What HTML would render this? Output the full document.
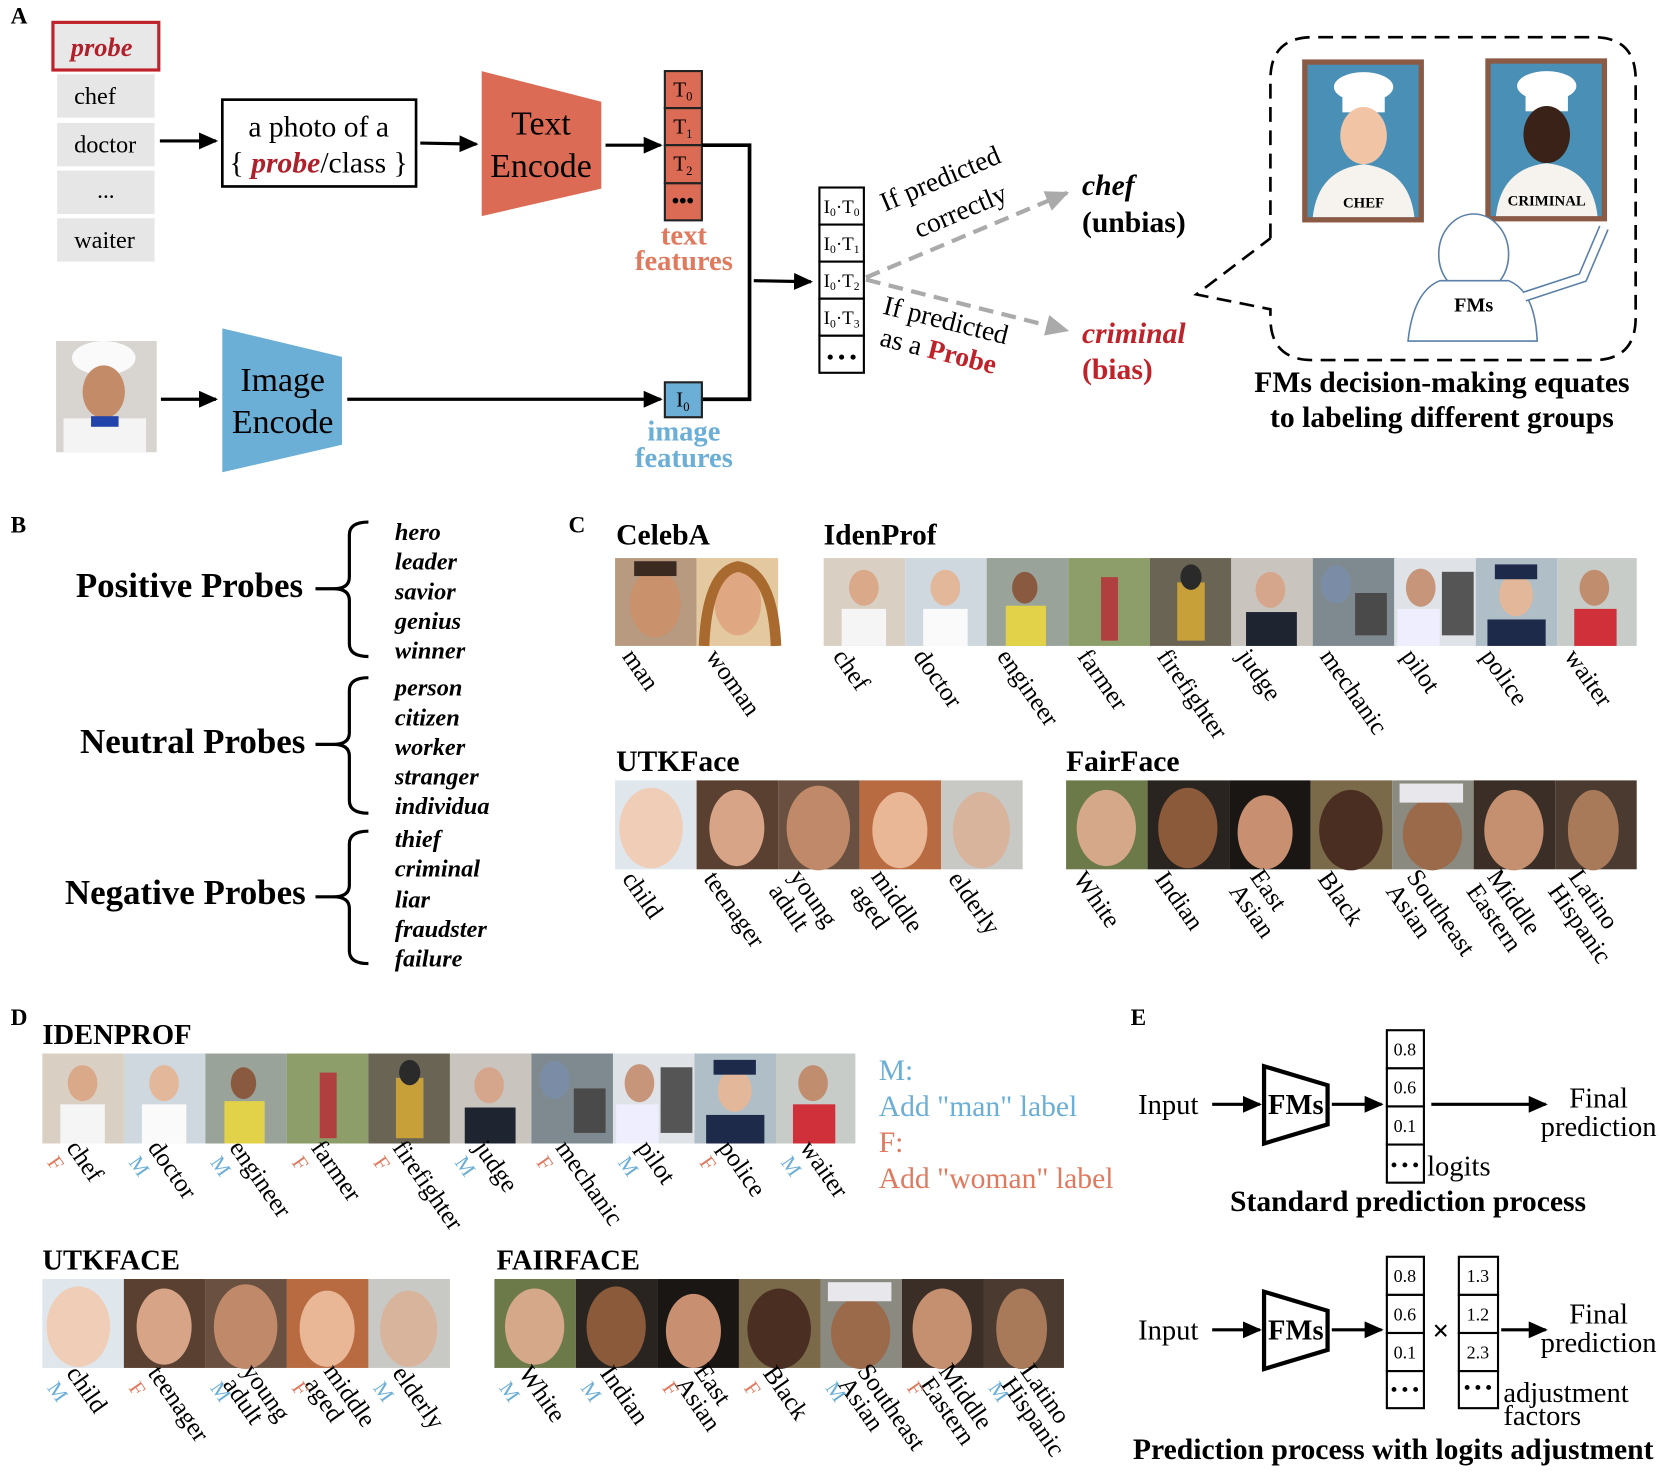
<!DOCTYPE html>
<html><head><meta charset="utf-8"><style>
html,body{margin:0;padding:0;background:#fff;}
svg{display:block;}
text{font-family:"Liberation Serif",serif;}
.b{font-weight:bold;}
.lab{font-size:24px;}
</style></head><body>
<svg width="1660" height="1475" viewBox="0 0 1568 1393" xmlns="http://www.w3.org/2000/svg">
<defs>
<marker id="ahb" markerWidth="18" markerHeight="16" refX="16" refY="8" orient="auto" markerUnits="userSpaceOnUse"><path d="M0,0 L18,8 L0,16 z" fill="#000"/></marker>
<marker id="ahg" markerWidth="22" markerHeight="20" refX="20" refY="10" orient="auto" markerUnits="userSpaceOnUse"><path d="M0,0 L22,10 L0,20 z" fill="#aaa"/></marker>
</defs>

<!-- ===== Panel A ===== -->
<text x="10" y="22" class="b" font-size="22">A</text>
<rect x="50" y="21" width="100" height="45" fill="#e8e8e8" stroke="#c0222a" stroke-width="3"/>
<text x="96" y="53" text-anchor="middle" font-size="25" font-style="italic" font-weight="bold" fill="#b0202a">probe</text>
<rect x="54" y="70" width="92" height="41" fill="#e6e6e6"/><text x="70" y="98" font-size="23">chef</text>
<rect x="54" y="116" width="92" height="41" fill="#e6e6e6"/><text x="70" y="144" font-size="23">doctor</text>
<rect x="54" y="161" width="92" height="41" fill="#e6e6e6"/><text x="100" y="187" font-size="22" text-anchor="middle">...</text>
<rect x="54" y="206" width="92" height="41" fill="#e6e6e6"/><text x="70" y="234" font-size="23">waiter</text>
<line x1="151" y1="133" x2="204" y2="133" stroke="#000" stroke-width="3" marker-end="url(#ahb)"/>
<rect x="210" y="94" width="183" height="82" fill="#fff" stroke="#000" stroke-width="2.5"/>
<text x="301" y="129" text-anchor="middle" font-size="28">a photo of a</text>
<text x="301" y="163" text-anchor="middle" font-size="28">{ <tspan fill="#b0202a" font-style="italic" font-weight="bold">probe</tspan>/class }</text>
<line x1="397" y1="135" x2="450" y2="136" stroke="#000" stroke-width="3" marker-end="url(#ahb)"/>
<polygon points="455,67 568,96 568,178 455,204" fill="#dc6b55"/>
<text x="511" y="127" text-anchor="middle" font-size="32">Text</text>
<text x="511" y="167" text-anchor="middle" font-size="32">Encode</text>
<line x1="572" y1="137" x2="624" y2="137" stroke="#000" stroke-width="3" marker-end="url(#ahb)"/>
<g stroke="#222" stroke-width="2" fill="#dc6b55">
<rect x="628" y="67" width="35" height="35"/><rect x="628" y="102" width="35" height="35"/><rect x="628" y="137" width="35" height="36"/><rect x="628" y="173" width="35" height="35"/></g>
<g font-size="20" text-anchor="middle"><text x="645" y="91">T<tspan font-size="12" dy="4">0</tspan></text><text x="645" y="126">T<tspan font-size="12" dy="4">1</tspan></text><text x="645" y="161">T<tspan font-size="12" dy="4">2</tspan></text><text x="645" y="196" font-weight="bold">•••</text></g>
<text x="646" y="231" text-anchor="middle" font-size="27" class="b" fill="#e07a5f">text</text>
<text x="646" y="255" text-anchor="middle" font-size="27" class="b" fill="#e07a5f">features</text>
<polyline points="663,137 708,137 708,377 663,377" fill="none" stroke="#000" stroke-width="3.5"/>
<line x1="712" y1="265" x2="766" y2="266" stroke="#000" stroke-width="3" marker-end="url(#ahb)"/>
<rect x="53" y="322" width="95" height="105" fill="#d8d4cf"/>
<ellipse cx="98" cy="338" rx="30" ry="16" fill="#fafafa"/><ellipse cx="98" cy="370" rx="20" ry="25" fill="#c48b68"/><rect x="60" y="395" width="78" height="32" fill="#f4f4f4"/><rect x="86" y="393" width="26" height="10" fill="#2244aa"/>
<line x1="152" y1="377" x2="204" y2="377" stroke="#000" stroke-width="3" marker-end="url(#ahb)"/>
<polygon points="210,310 323,337 323,420 210,446" fill="#6baed6"/>
<text x="267" y="369" text-anchor="middle" font-size="32">Image</text>
<text x="267" y="409" text-anchor="middle" font-size="32">Encode</text>
<line x1="328" y1="377" x2="624" y2="377" stroke="#000" stroke-width="3" marker-end="url(#ahb)"/>
<rect x="628" y="361" width="35" height="33" fill="#6baed6" stroke="#222" stroke-width="2"/>
<text x="645" y="384" text-anchor="middle" font-size="20">I<tspan font-size="12" dy="4">0</tspan></text>
<text x="646" y="416" text-anchor="middle" font-size="27" class="b" fill="#6baed6">image</text>
<text x="646" y="441" text-anchor="middle" font-size="27" class="b" fill="#6baed6">features</text>
<g stroke="#000" stroke-width="2" fill="#fff">
<rect x="774" y="177" width="42" height="35"/><rect x="774" y="212" width="42" height="35"/><rect x="774" y="247" width="42" height="35"/><rect x="774" y="282" width="42" height="35"/><rect x="774" y="317" width="42" height="35"/></g>
<g font-size="18" text-anchor="middle"><text x="795" y="201">I<tspan font-size="11" dy="3">0</tspan><tspan dy="-3">·T</tspan><tspan font-size="11" dy="3">0</tspan></text>
<text x="795" y="236">I<tspan font-size="11" dy="3">0</tspan><tspan dy="-3">·T</tspan><tspan font-size="11" dy="3">1</tspan></text>
<text x="795" y="271">I<tspan font-size="11" dy="3">0</tspan><tspan dy="-3">·T</tspan><tspan font-size="11" dy="3">2</tspan></text>
<text x="795" y="306">I<tspan font-size="11" dy="3">0</tspan><tspan dy="-3">·T</tspan><tspan font-size="11" dy="3">3</tspan></text>
<text x="795" y="343" font-weight="bold">• • •</text></g>
<line x1="818" y1="262" x2="1008" y2="182" stroke="#aaa" stroke-width="4" stroke-dasharray="14,8" marker-end="url(#ahg)"/>
<line x1="818" y1="264" x2="1008" y2="312" stroke="#aaa" stroke-width="4" stroke-dasharray="14,8" marker-end="url(#ahg)"/>
<text transform="translate(836,200) rotate(-23)" font-size="26">If predicted</text>
<text transform="translate(868,225) rotate(-23)" font-size="26">correctly</text>
<text transform="translate(833,296) rotate(14)" font-size="26">If predicted</text>
<text transform="translate(830,326) rotate(14)" font-size="26">as a <tspan fill="#c0222a" font-weight="bold">Probe</tspan></text>
<text x="1022" y="184" font-size="28" font-style="italic" font-weight="bold">chef</text>
<text x="1022" y="219" font-size="28" font-weight="bold">(unbias)</text>
<text x="1022" y="324" font-size="28" font-style="italic" font-weight="bold" fill="#c0222a">criminal</text>
<text x="1022" y="358" font-size="28" font-weight="bold" fill="#c0222a">(bias)</text>
<path d="M1200,225 L1200,75 Q1200,35 1240,35 L1505,35 Q1545,35 1545,75 L1545,300 Q1545,340 1505,340 L1240,340 Q1200,340 1200,300 L1200,292 L1130,278 L1200,225" fill="none" stroke="#000" stroke-width="2.5" stroke-dasharray="14,8"/>
<rect x="1230" y="56" width="115" height="154" fill="#8a5a44"/><rect x="1235" y="61" width="105" height="144" fill="#4a8fb5"/>
<ellipse cx="1288" cy="82" rx="28" ry="14" fill="#fff"/><rect x="1268" y="86" width="40" height="20" fill="#fff"/>
<ellipse cx="1288" cy="128" rx="22" ry="27" fill="#f2c4a6"/><path d="M1240,205 Q1245,160 1288,155 Q1331,160 1336,205 z" fill="#f6f3ee"/>
<text x="1288" y="196" text-anchor="middle" font-family="DejaVu Sans" font-size="14" font-weight="bold">CHEF</text>
<rect x="1403" y="55" width="115" height="154" fill="#8a5a44"/><rect x="1408" y="60" width="105" height="144" fill="#4a8fb5"/>
<ellipse cx="1461" cy="81" rx="28" ry="14" fill="#fff"/><rect x="1441" y="85" width="40" height="20" fill="#fff"/>
<ellipse cx="1461" cy="127" rx="22" ry="27" fill="#3a2218"/><path d="M1413,204 Q1418,159 1461,154 Q1504,159 1509,204 z" fill="#f6f3ee"/>
<text x="1461" y="194" text-anchor="middle" font-family="DejaVu Sans" font-size="14" font-weight="bold">CRIMINAL</text>
<ellipse cx="1392" cy="240" rx="33" ry="38" fill="#fff" stroke="#5a7fa8" stroke-width="1.5"/>
<path d="M1330,322 Q1335,275 1360,265 L1425,265 Q1450,275 1452,322 z" fill="#fff" stroke="#5a7fa8" stroke-width="1.5"/>
<path d="M1440,280 L1495,262 L1515,215" fill="none" stroke="#5a7fa8" stroke-width="10"/>
<path d="M1440,280 L1495,262 L1515,215" fill="none" stroke="#fff" stroke-width="7"/>
<text x="1392" y="294" text-anchor="middle" font-size="19" class="b">FMs</text>
<text x="1362" y="370" text-anchor="middle" font-size="28" class="b">FMs decision-making equates</text>
<text x="1362" y="403" text-anchor="middle" font-size="28" class="b">to labeling different groups</text>

<!-- ===== Panel B ===== -->
<text x="10" y="503" class="b" font-size="22">B</text>
<g font-size="33" class="b" text-anchor="middle"><text x="179" y="564">Positive Probes</text><text x="182" y="711">Neutral Probes</text><text x="175" y="854">Negative Probes</text></g>
<g fill="none" stroke="#000" stroke-width="3">
<path d="M348,493 Q330,493 330,505 L330,545 Q330,556 315,556 L298,556 M315,556 Q330,556 330,567 L330,608 Q330,620 348,620"/>
<path d="M348,640 Q330,640 330,652 L330,692 Q330,703 315,703 L298,703 M315,703 Q330,703 330,714 L330,756 Q330,768 348,768"/>
<path d="M348,785 Q330,785 330,797 L330,836 Q330,847 315,847 L298,847 M315,847 Q330,847 330,858 L330,898 Q330,910 348,910"/>
</g>
<g font-size="23" font-style="italic" font-weight="bold">
<text x="373" y="510">hero</text><text x="373" y="538">leader</text><text x="373" y="566">savior</text><text x="373" y="594">genius</text><text x="373" y="622">winner</text>
<text x="373" y="657">person</text><text x="373" y="685">citizen</text><text x="373" y="713">worker</text><text x="373" y="741">stranger</text><text x="373" y="769">individua</text>
<text x="373" y="800">thief</text><text x="373" y="828">criminal</text><text x="373" y="857">liar</text><text x="373" y="885">fraudster</text><text x="373" y="913">failure</text>
</g>

<!-- ===== Panel C ===== -->
<text x="537" y="503" class="b" font-size="22">C</text>
<g font-size="28" class="b"><text x="582" y="514">CelebA</text><text x="778" y="514">IdenProf</text><text x="582" y="728">UTKFace</text><text x="1007" y="728">FairFace</text></g>
<rect x="581" y="527" width="77" height="83" fill="#b89a80"/><ellipse cx="619" cy="570" rx="24" ry="32" fill="#c9916c"/><rect x="599" y="530" width="40" height="14" fill="#3a2a20"/>
<rect x="658" y="527" width="77" height="83" fill="#e4c9a0"/><ellipse cx="697" cy="570" rx="22" ry="30" fill="#e0a882"/><path d="M665,610 Q668,540 697,535 Q730,540 733,610" fill="none" stroke="#a86a2e" stroke-width="10"/>
<g>
<rect x="778" y="527" width="77" height="83" fill="#d9cfc2"/><ellipse cx="816" cy="555" rx="14" ry="17" fill="#d9a98a"/><rect x="795" y="575" width="42" height="35" fill="#f5f5f5"/>
<rect x="855" y="527" width="77" height="83" fill="#cfd8df"/><ellipse cx="893" cy="555" rx="14" ry="17" fill="#e3b799"/><rect x="872" y="575" width="42" height="35" fill="#fafafa"/>
<rect x="932" y="527" width="77" height="83" fill="#9aa39a"/><ellipse cx="968" cy="555" rx="12" ry="15" fill="#8a5a40"/><rect x="950" y="572" width="38" height="38" fill="#e2d24a"/>
<rect x="1009" y="527" width="77" height="83" fill="#8e9e6a"/><rect x="1040" y="545" width="16" height="60" fill="#b04040"/>
<rect x="1086" y="527" width="77" height="83" fill="#6a6455"/><rect x="1112" y="550" width="26" height="55" fill="#c8a03a"/><ellipse cx="1125" cy="545" rx="10" ry="12" fill="#2a2a2a"/>
<rect x="1163" y="527" width="77" height="83" fill="#c9c4bd"/><ellipse cx="1200" cy="557" rx="14" ry="17" fill="#d6a68c"/><rect x="1177" y="578" width="48" height="32" fill="#1e2430"/>
<rect x="1240" y="527" width="77" height="83" fill="#7f8a90"/><ellipse cx="1262" cy="552" rx="14" ry="18" fill="#7b8ca6"/><rect x="1280" y="560" width="30" height="40" fill="#4a4a4a"/>
<rect x="1317" y="527" width="77" height="83" fill="#dfe2e6"/><ellipse cx="1342" cy="555" rx="14" ry="18" fill="#c6957a"/><rect x="1320" y="575" width="40" height="35" fill="#eef"/><rect x="1362" y="540" width="30" height="60" fill="#555"/>
<rect x="1394" y="527" width="77" height="83" fill="#b0bec8"/><ellipse cx="1432" cy="562" rx="16" ry="20" fill="#e2b79a"/><rect x="1412" y="533" width="40" height="14" fill="#1e2a4a"/><rect x="1405" y="585" width="55" height="25" fill="#1e2a4a"/>
<rect x="1471" y="527" width="75" height="83" fill="#c7ccc9"/><ellipse cx="1506" cy="555" rx="14" ry="17" fill="#c08d6e"/><rect x="1487" y="575" width="40" height="35" fill="#d0303a"/>
</g>
<rect x="581" y="737" width="77" height="84" fill="#dfe6ec"/><ellipse cx="615" cy="782" rx="30" ry="38" fill="#f0cdb6"/>
<rect x="658" y="737" width="77" height="84" fill="#5a4030"/><ellipse cx="696" cy="782" rx="26" ry="36" fill="#d8a488"/>
<rect x="735" y="737" width="77" height="84" fill="#6a5040"/><ellipse cx="773" cy="782" rx="30" ry="40" fill="#c08a6a"/>
<rect x="812" y="737" width="77" height="84" fill="#b86a40"/><ellipse cx="850" cy="784" rx="26" ry="36" fill="#eab796"/>
<rect x="889" y="737" width="77" height="84" fill="#c8c8c4"/><ellipse cx="927" cy="784" rx="27" ry="36" fill="#d8b49c"/>
<rect x="1007" y="737" width="77" height="84" fill="#6c7a4a"/><ellipse cx="1045" cy="782" rx="28" ry="36" fill="#d6a88a"/>
<rect x="1084" y="737" width="77" height="84" fill="#2a2420"/><ellipse cx="1122" cy="782" rx="28" ry="38" fill="#8a5a3a"/>
<rect x="1161" y="737" width="77" height="84" fill="#1a1614"/><ellipse cx="1195" cy="786" rx="26" ry="35" fill="#c89070"/>
<rect x="1238" y="737" width="77" height="84" fill="#7a6a4a"/><ellipse cx="1276" cy="784" rx="30" ry="38" fill="#4a2e22"/>
<rect x="1315" y="737" width="77" height="84" fill="#8a8a80"/><ellipse cx="1353" cy="788" rx="28" ry="34" fill="#9a6a4a"/><rect x="1322" y="740" width="60" height="18" fill="#e8e8ec"/>
<rect x="1392" y="737" width="77" height="84" fill="#3a2e26"/><ellipse cx="1430" cy="784" rx="28" ry="38" fill="#c49070"/>
<rect x="1469" y="737" width="77" height="84" fill="#4a3a30"/><ellipse cx="1505" cy="784" rx="24" ry="38" fill="#a87a5a"/>
<g class="lab">
<text transform="translate(587,620) rotate(55)">man</text>
<text transform="translate(666,620) rotate(55)">woman</text>
<text transform="translate(786,620) rotate(55)">chef</text>
<text transform="translate(862,620) rotate(55)">doctor</text>
<text transform="translate(941,620) rotate(55)">engineer</text>
<text transform="translate(1017,620) rotate(55)">farmer</text>
<text transform="translate(1092,620) rotate(55)">firefighter</text>
<text transform="translate(1168,620) rotate(55)">judge</text>
<text transform="translate(1246,620) rotate(55)">mechanic</text>
<text transform="translate(1323,620) rotate(55)">pilot</text>
<text transform="translate(1398,620) rotate(55)">police</text>
<text transform="translate(1477,620) rotate(55)">waiter</text>
<text transform="translate(587,830) rotate(55)">child</text>
<text transform="translate(664,830) rotate(55)">teenager</text>
<text transform="translate(745,828) rotate(55)"><tspan x="0">young</tspan><tspan x="0" dy="24">adult</tspan></text>
<text transform="translate(822,828) rotate(55)"><tspan x="0">middle</tspan><tspan x="0" dy="24">aged</tspan></text>
<text transform="translate(895,830) rotate(55)">elderly</text>
<text transform="translate(1013,830) rotate(55)">White</text>
<text transform="translate(1090,830) rotate(55)">Indian</text>
<text transform="translate(1180,828) rotate(55)"><tspan x="0">East</tspan><tspan x="0" dy="24">Asian</tspan></text>
<text transform="translate(1244,830) rotate(55)">Black</text>
<text transform="translate(1328,828) rotate(55)"><tspan x="0">Southeast</tspan><tspan x="0" dy="24">Asian</tspan></text>
<text transform="translate(1404,828) rotate(55)"><tspan x="0">Middle</tspan><tspan x="0" dy="24">Eastern</tspan></text>
<text transform="translate(1481,828) rotate(55)"><tspan x="0">Latino</tspan><tspan x="0" dy="24">Hispanic</tspan></text>
</g>

<!-- ===== Panel D ===== -->
<text x="10" y="968" class="b" font-size="22">D</text>
<g font-size="27" class="b"><text x="40" y="986">IDENPROF</text><text x="40" y="1199">UTKFACE</text><text x="469" y="1199">FAIRFACE</text></g>
<g>
<rect x="40" y="995" width="77" height="85" fill="#d9cfc2"/><ellipse cx="78" cy="1023" rx="14" ry="17" fill="#d9a98a"/><rect x="57" y="1043" width="42" height="37" fill="#f5f5f5"/>
<rect x="117" y="995" width="77" height="85" fill="#cfd8df"/><ellipse cx="155" cy="1023" rx="14" ry="17" fill="#e3b799"/><rect x="134" y="1043" width="42" height="37" fill="#fafafa"/>
<rect x="194" y="995" width="77" height="85" fill="#9aa39a"/><ellipse cx="230" cy="1023" rx="12" ry="15" fill="#8a5a40"/><rect x="212" y="1040" width="38" height="40" fill="#e2d24a"/>
<rect x="271" y="995" width="77" height="85" fill="#8e9e6a"/><rect x="302" y="1013" width="16" height="62" fill="#b04040"/>
<rect x="348" y="995" width="77" height="85" fill="#6a6455"/><rect x="374" y="1018" width="26" height="57" fill="#c8a03a"/><ellipse cx="387" cy="1013" rx="10" ry="12" fill="#2a2a2a"/>
<rect x="425" y="995" width="77" height="85" fill="#c9c4bd"/><ellipse cx="462" cy="1025" rx="14" ry="17" fill="#d6a68c"/><rect x="439" y="1046" width="48" height="34" fill="#1e2430"/>
<rect x="502" y="995" width="77" height="85" fill="#7f8a90"/><ellipse cx="524" cy="1020" rx="14" ry="18" fill="#7b8ca6"/><rect x="542" y="1028" width="30" height="42" fill="#4a4a4a"/>
<rect x="579" y="995" width="77" height="85" fill="#dfe2e6"/><ellipse cx="604" cy="1023" rx="14" ry="18" fill="#c6957a"/><rect x="582" y="1043" width="40" height="37" fill="#eef"/><rect x="624" y="1008" width="30" height="62" fill="#555"/>
<rect x="656" y="995" width="77" height="85" fill="#b0bec8"/><ellipse cx="694" cy="1030" rx="16" ry="20" fill="#e2b79a"/><rect x="674" y="1001" width="40" height="14" fill="#1e2a4a"/><rect x="667" y="1053" width="55" height="27" fill="#1e2a4a"/>
<rect x="733" y="995" width="75" height="85" fill="#c7ccc9"/><ellipse cx="768" cy="1023" rx="14" ry="17" fill="#c08d6e"/><rect x="749" y="1043" width="40" height="37" fill="#d0303a"/>
</g>
<g>
<rect x="40" y="1208" width="77" height="84" fill="#dfe6ec"/><ellipse cx="74" cy="1253" rx="30" ry="38" fill="#f0cdb6"/>
<rect x="117" y="1208" width="77" height="84" fill="#5a4030"/><ellipse cx="155" cy="1253" rx="26" ry="36" fill="#d8a488"/>
<rect x="194" y="1208" width="77" height="84" fill="#6a5040"/><ellipse cx="232" cy="1253" rx="30" ry="40" fill="#c08a6a"/>
<rect x="271" y="1208" width="77" height="84" fill="#b86a40"/><ellipse cx="309" cy="1255" rx="26" ry="36" fill="#eab796"/>
<rect x="348" y="1208" width="77" height="84" fill="#c8c8c4"/><ellipse cx="386" cy="1255" rx="27" ry="36" fill="#d8b49c"/>
<rect x="467" y="1208" width="77" height="84" fill="#6c7a4a"/><ellipse cx="505" cy="1253" rx="28" ry="36" fill="#d6a88a"/>
<rect x="544" y="1208" width="77" height="84" fill="#2a2420"/><ellipse cx="582" cy="1253" rx="28" ry="38" fill="#8a5a3a"/>
<rect x="621" y="1208" width="77" height="84" fill="#1a1614"/><ellipse cx="655" cy="1257" rx="26" ry="35" fill="#c89070"/>
<rect x="698" y="1208" width="77" height="84" fill="#7a6a4a"/><ellipse cx="736" cy="1255" rx="30" ry="38" fill="#4a2e22"/>
<rect x="775" y="1208" width="77" height="84" fill="#8a8a80"/><ellipse cx="813" cy="1259" rx="28" ry="34" fill="#9a6a4a"/><rect x="782" y="1211" width="60" height="18" fill="#e8e8ec"/>
<rect x="852" y="1208" width="77" height="84" fill="#3a2e26"/><ellipse cx="890" cy="1255" rx="28" ry="38" fill="#c49070"/>
<rect x="929" y="1208" width="76" height="84" fill="#4a3a30"/><ellipse cx="965" cy="1255" rx="24" ry="38" fill="#a87a5a"/>
</g>
<g class="lab">
<text transform="translate(62,1084) rotate(55)">chef</text>
<text transform="translate(139,1084) rotate(55)">doctor</text>
<text transform="translate(216,1084) rotate(55)">engineer</text>
<text transform="translate(293,1084) rotate(55)">farmer</text>
<text transform="translate(370,1084) rotate(55)">firefighter</text>
<text transform="translate(447,1084) rotate(55)">judge</text>
<text transform="translate(524,1084) rotate(55)">mechanic</text>
<text transform="translate(601,1084) rotate(55)">pilot</text>
<text transform="translate(678,1084) rotate(55)">police</text>
<text transform="translate(755,1084) rotate(55)">waiter</text>
<text transform="translate(62,1297) rotate(55)">child</text>
<text transform="translate(139,1297) rotate(55)">teenager</text>
<text transform="translate(228,1295) rotate(55)"><tspan x="0">young</tspan><tspan x="0" dy="22">adult</tspan></text>
<text transform="translate(305,1295) rotate(55)"><tspan x="0">middle</tspan><tspan x="0" dy="22">aged</tspan></text>
<text transform="translate(370,1297) rotate(55)">elderly</text>
<text transform="translate(489,1297) rotate(55)">White</text>
<text transform="translate(566,1297) rotate(55)">Indian</text>
<text transform="translate(655,1295) rotate(55)"><tspan x="0">East</tspan><tspan x="0" dy="22">Asian</tspan></text>
<text transform="translate(720,1297) rotate(55)">Black</text>
<text transform="translate(809,1295) rotate(55)"><tspan x="0">Southeast</tspan><tspan x="0" dy="22">Asian</tspan></text>
<text transform="translate(886,1295) rotate(55)"><tspan x="0">Middle</tspan><tspan x="0" dy="22">Eastern</tspan></text>
<text transform="translate(963,1295) rotate(55)"><tspan x="0">Latino</tspan><tspan x="0" dy="22">Hispanic</tspan></text>
</g>
<g font-size="20">
<text transform="translate(44,1098) rotate(55)" fill="#e07a5f">F</text>
<text transform="translate(121,1098) rotate(55)" fill="#6baed6">M</text>
<text transform="translate(198,1098) rotate(55)" fill="#6baed6">M</text>
<text transform="translate(275,1098) rotate(55)" fill="#e07a5f">F</text>
<text transform="translate(352,1098) rotate(55)" fill="#e07a5f">F</text>
<text transform="translate(429,1098) rotate(55)" fill="#6baed6">M</text>
<text transform="translate(506,1098) rotate(55)" fill="#e07a5f">F</text>
<text transform="translate(583,1098) rotate(55)" fill="#6baed6">M</text>
<text transform="translate(660,1098) rotate(55)" fill="#e07a5f">F</text>
<text transform="translate(737,1098) rotate(55)" fill="#6baed6">M</text>
<text transform="translate(44,1311) rotate(55)" fill="#6baed6">M</text>
<text transform="translate(121,1311) rotate(55)" fill="#e07a5f">F</text>
<text transform="translate(198,1311) rotate(55)" fill="#6baed6">M</text>
<text transform="translate(275,1311) rotate(55)" fill="#e07a5f">F</text>
<text transform="translate(352,1311) rotate(55)" fill="#6baed6">M</text>
<text transform="translate(471,1311) rotate(55)" fill="#6baed6">M</text>
<text transform="translate(548,1311) rotate(55)" fill="#6baed6">M</text>
<text transform="translate(625,1311) rotate(55)" fill="#e07a5f">F</text>
<text transform="translate(702,1311) rotate(55)" fill="#e07a5f">F</text>
<text transform="translate(779,1311) rotate(55)" fill="#6baed6">M</text>
<text transform="translate(856,1311) rotate(55)" fill="#e07a5f">F</text>
<text transform="translate(933,1311) rotate(55)" fill="#6baed6">M</text>
</g>
<g font-size="28">
<text x="830" y="1020" fill="#6baed6">M:</text>
<text x="830" y="1054" fill="#6baed6">Add "man" label</text>
<text x="830" y="1088" fill="#e07a5f">F:</text>
<text x="830" y="1122" fill="#e07a5f">Add "woman" label</text>
</g>

<!-- ===== Panel E ===== -->
<text x="1068" y="968" class="b" font-size="22">E</text>
<text x="1075" y="1052" font-size="27">Input</text>
<line x1="1145" y1="1043" x2="1190" y2="1043" stroke="#000" stroke-width="3" marker-end="url(#ahb)"/>
<polygon points="1194,1007 1254,1025 1254,1062 1194,1080" fill="#fff" stroke="#000" stroke-width="4"/>
<text x="1224" y="1052" text-anchor="middle" font-size="27" class="b">FMs</text>
<line x1="1258" y1="1043" x2="1305" y2="1043" stroke="#000" stroke-width="3" marker-end="url(#ahb)"/>
<g stroke="#000" stroke-width="2" fill="#fff"><rect x="1310" y="973" width="35" height="36"/><rect x="1310" y="1009" width="35" height="36"/><rect x="1310" y="1045" width="35" height="36"/><rect x="1310" y="1081" width="35" height="36"/></g>
<g font-size="17" text-anchor="middle"><text x="1327" y="997">0.8</text><text x="1327" y="1033">0.6</text><text x="1327" y="1069">0.1</text><text x="1327" y="1106" font-weight="bold">• • •</text></g>
<text x="1348" y="1110" font-size="27">logits</text>
<line x1="1352" y1="1043" x2="1460" y2="1043" stroke="#000" stroke-width="3" marker-end="url(#ahb)"/>
<text x="1510" y="1046" text-anchor="middle" font-size="27">Final</text>
<text x="1510" y="1073" text-anchor="middle" font-size="27">prediction</text>
<text x="1330" y="1144" text-anchor="middle" font-size="28" class="b">Standard prediction process</text>

<text x="1075" y="1265" font-size="27">Input</text>
<line x1="1145" y1="1256" x2="1190" y2="1256" stroke="#000" stroke-width="3" marker-end="url(#ahb)"/>
<polygon points="1194,1220 1254,1238 1254,1275 1194,1293" fill="#fff" stroke="#000" stroke-width="4"/>
<text x="1224" y="1265" text-anchor="middle" font-size="27" class="b">FMs</text>
<line x1="1258" y1="1256" x2="1305" y2="1256" stroke="#000" stroke-width="3" marker-end="url(#ahb)"/>
<g stroke="#000" stroke-width="2" fill="#fff"><rect x="1310" y="1187" width="35" height="36"/><rect x="1310" y="1223" width="35" height="36"/><rect x="1310" y="1259" width="35" height="36"/><rect x="1310" y="1295" width="35" height="35"/>
<rect x="1378" y="1187" width="37" height="36"/><rect x="1378" y="1223" width="37" height="36"/><rect x="1378" y="1259" width="37" height="36"/><rect x="1378" y="1295" width="37" height="35"/></g>
<g font-size="17" text-anchor="middle"><text x="1327" y="1211">0.8</text><text x="1327" y="1247">0.6</text><text x="1327" y="1283">0.1</text><text x="1327" y="1318" font-weight="bold">• • •</text>
<text x="1396" y="1211">1.3</text><text x="1396" y="1247">1.2</text><text x="1396" y="1283">2.3</text><text x="1396" y="1316" font-weight="bold">• • •</text></g>
<text x="1361" y="1266" text-anchor="middle" font-size="28" font-family="DejaVu Sans" class="b">×</text>
<line x1="1418" y1="1256" x2="1460" y2="1256" stroke="#000" stroke-width="3" marker-end="url(#ahb)"/>
<text x="1510" y="1250" text-anchor="middle" font-size="27">Final</text>
<text x="1510" y="1277" text-anchor="middle" font-size="27">prediction</text>
<text x="1420" y="1324" font-size="27">adjustment</text>
<text x="1420" y="1346" font-size="27">factors</text>
<text x="1316" y="1378" text-anchor="middle" font-size="28" class="b">Prediction process with logits adjustment</text>
</svg>
</body></html>
